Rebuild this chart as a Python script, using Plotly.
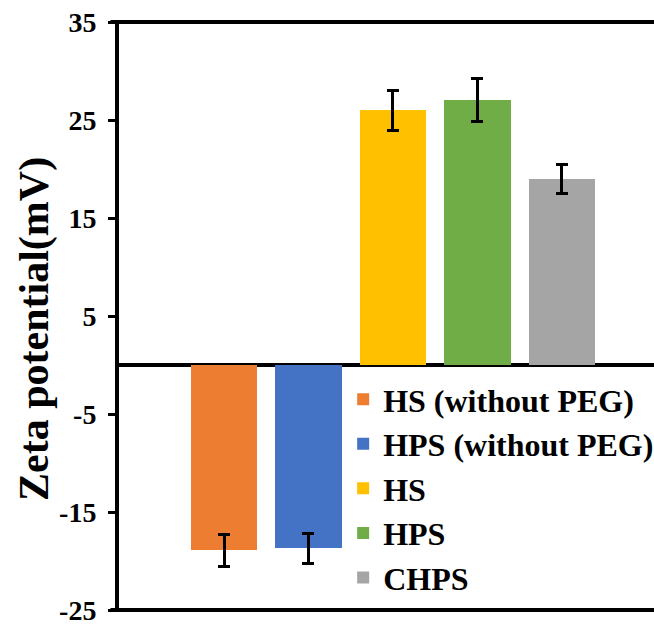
import plotly.graph_objects as go

categories = ["HS (without PEG)", "HPS (without PEG)", "HS", "HPS", "CHPS"]
values = [-18.9, -18.7, 26.0, 27.0, 19.0]
errors = [1.65, 1.55, 2.05, 2.2, 1.5]
colors = ["#ED7D31", "#4472C4", "#FFC000", "#70AD47", "#A5A5A5"]
y_ticks = [-25, -15, -5, 5, 15, 25, 35]
y_tick_labels = ["-25", "-15", "-5", "5", "15", "25", "35"]
y_range = [-25, 35]
y_title = "Zeta potential(mV)"

FONT = "Times New Roman, Liberation Serif, DejaVu Serif, serif"

fig = go.Figure()
for i, (name, v, e, c) in enumerate(zip(categories, values, errors, colors)):
    fig.add_trace(go.Bar(
        x=[i], y=[v], name=name, marker=dict(color=c, line=dict(width=0)),
        width=0.79, legendgroup=name,
        error_y=dict(type="data", array=[e], visible=True, color="black",
                     thickness=3, width=6),
    ))

fig.update_layout(
    width=654, height=628,
    margin=dict(l=119, r=0, t=22, b=18, autoexpand=False),
    plot_bgcolor="white", paper_bgcolor="white",
    font=dict(family=FONT, color="black", size=22, weight="bold"),
    showlegend=True,
    legend=dict(x=0.419, y=0.405, xanchor="left", yanchor="top",
                bgcolor="rgba(255,255,255,0)", tracegroupgap=0,
                font=dict(family=FONT, size=32, color="black", weight="bold")),
    xaxis=dict(range=[-1.243, 5.09], showticklabels=False, showgrid=False,
               zeroline=False, showline=False, ticks=""),
    yaxis=dict(range=y_range, tickvals=y_ticks, ticktext=y_tick_labels,
               showgrid=False,
               zeroline=True, zerolinecolor="black", zerolinewidth=4,
               showline=True, linecolor="black", linewidth=4,
               ticks="outside", ticklen=7, tickwidth=3, tickcolor="black",
               ticklabelstandoff=6,
               tickfont=dict(family=FONT, size=28, color="black", weight="bold")),
    bargap=0,
)

fig.add_annotation(text=y_title, textangle=-90, xref="paper", yref="paper",
                   x=-0.157, y=0.478, xanchor="center", yanchor="middle",
                   showarrow=False,
                   font=dict(family=FONT, size=42, color="black", weight="bold"))

for yp in (0, 1):
    fig.add_shape(type="line", xref="paper", yref="paper",
                  x0=-0.016, x1=1, y0=yp, y1=yp,
                  line=dict(color="black", width=4))

fig.write_html("out.html")
